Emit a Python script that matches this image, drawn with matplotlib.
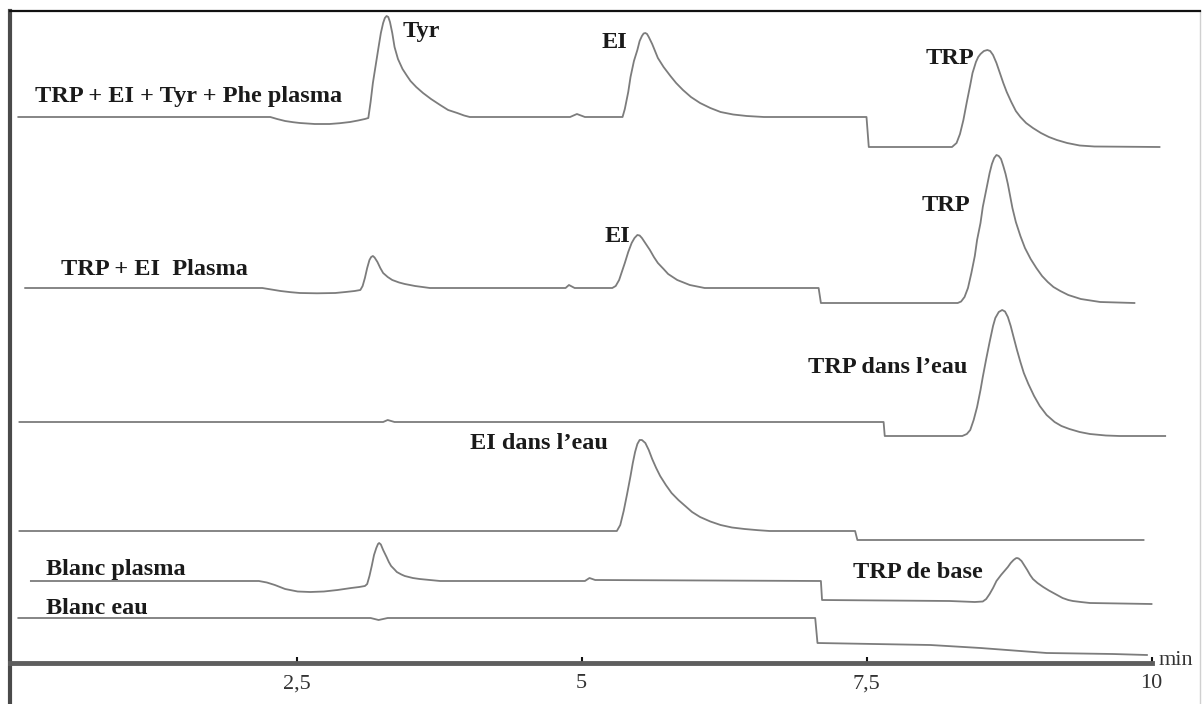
import numpy as np
import matplotlib
matplotlib.use("Agg")
import matplotlib.pyplot as plt

# === Chromatogrammes (temps en min, signal relatif a la ligne de base) ===
trp_ei_tyr_phe_plasma = [
    (0.06, 0), (2.27, 0), (2.33, -2), (2.40, -4), (2.47, -5.2), (2.53, -6), (2.66, -7),
    (2.79, -7), (2.88, -6.2), (2.97, -5), (3.04, -3.5), (3.10, -2), (3.13, -1),
    (3.15, 15), (3.17, 34), (3.195, 52), (3.22, 70), (3.24, 84), (3.26, 94), (3.275, 99),
    (3.29, 101), (3.305, 100), (3.32, 95), (3.34, 84), (3.36, 70), (3.39, 58), (3.43, 48),
    (3.47, 41), (3.50, 36), (3.55, 30), (3.61, 24), (3.68, 18), (3.76, 12), (3.83, 7),
    (3.91, 4), (3.97, 1.5), (4.02, 0), (4.90, 0), (4.96, 3), (5.03, 0),
    (5.36, 0), (5.38, 8), (5.41, 25), (5.43, 40), (5.46, 56), (5.49, 67), (5.51, 76),
    (5.53, 81), (5.545, 83.5), (5.56, 84), (5.575, 83), (5.59, 80), (5.62, 73),
    (5.645, 66), (5.67, 59), (5.72, 50), (5.78, 41), (5.83, 34), (5.89, 27), (5.96, 20),
    (6.04, 14), (6.13, 9), (6.22, 5), (6.33, 2.5), (6.45, 1), (6.60, 0),
    (7.50, 0), (7.52, -30), (8.25, -30), (8.29, -26), (8.32, -17), (8.35, -3), (8.38, 15),
    (8.41, 32), (8.43, 44), (8.46, 55), (8.48, 60), (8.50, 63), (8.53, 66), (8.56, 67),
    (8.585, 66), (8.61, 62), (8.64, 54), (8.67, 44), (8.70, 34), (8.73, 25), (8.77, 15),
    (8.81, 6), (8.85, 0), (8.90, -6), (8.96, -11), (9.03, -16), (9.10, -20), (9.17, -23),
    (9.26, -26), (9.37, -28.5), (9.50, -29.5), (10.07, -30),
]
trp_ei_plasma = [
    (0.12, 0), (2.20, 0), (2.28, -1.5), (2.36, -3), (2.45, -4.2), (2.53, -5), (2.68, -5.3),
    (2.84, -5), (2.93, -4), (3.01, -3), (3.06, -2), (3.08, 2), (3.10, 10), (3.12, 20),
    (3.14, 28), (3.155, 31), (3.17, 32), (3.185, 30.5), (3.21, 26), (3.235, 20),
    (3.26, 15), (3.30, 11), (3.34, 8), (3.40, 5.5), (3.45, 4), (3.54, 2), (3.67, 0),
    (4.86, 0), (4.89, 3), (4.94, 0), (5.27, 0), (5.30, 2), (5.33, 8), (5.38, 25),
    (5.41, 36), (5.44, 45), (5.465, 50), (5.49, 53), (5.51, 52.5), (5.53, 50),
    (5.565, 44), (5.60, 38), (5.635, 31), (5.67, 25), (5.72, 19), (5.76, 14), (5.84, 8),
    (5.95, 3), (6.08, 0), (7.08, 0), (7.10, -15), (8.30, -15), (8.33, -13.5),
    (8.36, -9), (8.39, 0), (8.42, 15), (8.45, 32), (8.47, 48), (8.50, 65), (8.52, 81),
    (8.55, 98), (8.58, 115), (8.60, 124), (8.62, 130), (8.64, 133), (8.66, 132),
    (8.68, 129), (8.70, 122), (8.72, 114), (8.74, 104), (8.76, 92), (8.78, 80),
    (8.81, 66), (8.85, 52), (8.89, 40), (8.94, 29), (8.99, 20), (9.04, 12), (9.09, 6),
    (9.14, 1), (9.20, -3), (9.27, -7), (9.38, -11), (9.55, -14), (9.85, -15),
]
trp_eau = [
    (0.07, 0), (3.26, 0), (3.30, 2), (3.36, 0), (7.65, 0), (7.66, -14), (8.34, -14),
    (8.38, -12), (8.41, -8), (8.44, 2), (8.47, 15), (8.50, 32), (8.52, 45), (8.55, 63),
    (8.58, 80), (8.61, 96), (8.63, 104), (8.66, 110), (8.69, 112), (8.715, 110.5),
    (8.74, 105), (8.765, 96), (8.79, 85), (8.82, 72), (8.85, 60), (8.88, 49), (8.92, 38),
    (8.97, 26), (9.02, 16), (9.08, 7), (9.15, 0), (9.21, -4), (9.28, -7), (9.37, -10),
    (9.46, -12), (9.60, -13.5), (9.72, -14), (10.12, -14),
]
ei_eau = [
    (0.07, 0), (5.31, 0), (5.34, 6), (5.37, 20), (5.40, 37), (5.43, 55), (5.45, 68),
    (5.47, 79), (5.49, 87), (5.51, 91), (5.53, 91), (5.56, 88), (5.59, 81), (5.62, 72),
    (5.655, 63), (5.69, 55), (5.74, 46), (5.79, 38), (5.85, 31), (5.91, 25), (5.97, 19),
    (6.04, 14), (6.13, 9.5), (6.22, 6), (6.32, 3.5), (6.43, 2), (6.55, 0.8), (6.65, 0),
    (7.40, 0), (7.42, -9), (9.93, -9),
]
blanc_plasma = [
    (0.17, 0), (2.17, 0), (2.24, -1.5), (2.31, -4), (2.40, -8), (2.51, -10.5),
    (2.62, -11), (2.74, -10.5), (2.86, -9), (2.98, -7), (3.05, -6), (3.10, -5),
    (3.12, -3), (3.14, 5), (3.16, 15), (3.18, 26), (3.20, 33), (3.215, 37), (3.225, 38),
    (3.24, 36.5), (3.26, 31), (3.29, 24), (3.31, 19), (3.33, 15), (3.36, 11.5), (3.38, 9),
    (3.42, 6.5), (3.45, 5), (3.52, 3), (3.58, 2), (3.76, 0), (5.03, 0), (5.07, 3),
    (5.12, 1), (7.10, 0), (7.11, -19), (8.23, -20), (8.45, -21), (8.52, -20.5),
    (8.55, -18), (8.58, -13), (8.61, -7), (8.64, 0), (8.68, 6), (8.71, 10), (8.74, 14),
    (8.765, 18), (8.79, 21), (8.81, 22.7), (8.82, 23), (8.835, 22.5), (8.86, 20),
    (8.885, 15.5), (8.91, 11), (8.935, 6), (8.96, 2), (9.00, -2), (9.05, -6),
    (9.10, -9.5), (9.14, -12), (9.18, -14.5), (9.22, -17), (9.27, -19), (9.31, -20),
    (9.38, -21), (9.46, -22), (10.00, -23),
]
blanc_eau = [
    (0.06, 0), (3.15, 0), (3.22, -2), (3.30, 0), (7.05, 0), (7.07, -25), (8.06, -27),
    (8.50, -30), (9.08, -35), (9.66, -36), (9.96, -37),
]

traces = [trp_ei_tyr_phe_plasma, trp_ei_plasma, trp_eau, ei_eau, blanc_plasma, blanc_eau]
base_lignes = [587, 416, 282, 173, 123, 86]   # decalage vertical de chaque trace

# etiquettes : (texte, temps, hauteur)
etiquettes = [
    ("TRP + EI + Tyr + Phe plasma", 0.21, 602),
    ("Tyr", 3.43, 667),
    ("EI", 5.18, 656),
    ("TRP", 8.02, 640),
    ("TRP + EI  Plasma", 0.43, 429),
    ("EI", 5.20, 462),
    ("TRP", 7.98, 493),
    ("TRP dans l\u2019eau", 6.99, 331),
    ("EI dans l\u2019eau", 4.02, 255),
    ("Blanc plasma", 0.30, 129),
    ("Blanc eau", 0.30, 90),
    ("TRP de base", 7.38, 126),
]
ticks = [2.5, 5, 7.5, 10]
tick_labels = ["2,5", "5", "7,5", "10"]

# === Figure ===
W, H = 1203, 704
fig = plt.figure(figsize=(W / 100, H / 100), dpi=100)
ax = fig.add_axes([10 / W, 0, 1190 / W, 693 / H])
ax.set_xlim((10 - 11.5) / 114, (1200 - 11.5) / 114)
ax.set_ylim(0, 693)

for tr, base in zip(traces, base_lignes):
    t, s = np.array(tr).T
    ax.plot(t, s + base, color="#7c7c7c", lw=1.3, solid_joinstyle="round")

for texte, x, y in etiquettes:
    ax.text(x, y, texte, fontsize=17.5, fontweight="bold", family="Liberation Serif",
            color="#1a1a1a", va="baseline", ha="left")

ax.text(10.06, 39, "min", fontsize=16, family="Liberation Serif", color="#333333",
        va="baseline", ha="left")

# axes
ax.spines["bottom"].set_position(("data", 41))
ax.spines["bottom"].set_bounds(ax.get_xlim()[0], 10)
ax.spines["bottom"].set_linewidth(3.5)
ax.spines["bottom"].set_color("#5e5e5e")
ax.spines["left"].set_linewidth(3)
ax.spines["left"].set_color("#4a4a4a")
ax.spines["top"].set_linewidth(1.6)
ax.spines["top"].set_color("#111111")
ax.spines["right"].set_linewidth(1)
ax.spines["right"].set_color("#d0d0d0")

ax.set_xticks(ticks)
ax.set_xticklabels(tick_labels, family="Liberation Serif", fontsize=16, color="#333333")
ax.tick_params(axis="x", direction="in", length=4, width=1.5, color="#111111", pad=8)
ax.set_yticks([])

fig.savefig("out.png", dpi=100)
